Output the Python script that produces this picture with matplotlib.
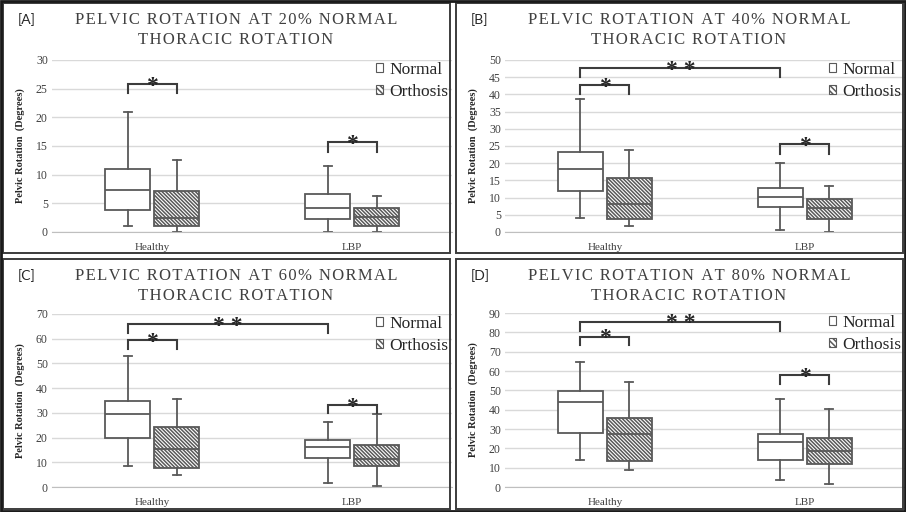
import matplotlib
matplotlib.use("Agg")
import matplotlib.pyplot as plt
from matplotlib.patches import Patch, Rectangle

# ---------------- data ----------------
categories = ["Healthy", "LBP"]
series_names = ["Normal", "Orthosis"]
panel_letters = ["[A]", "[B]", "[C]", "[D]"]
percents = ["20%", "40%", "60%", "80%"]
y_max = [30, 50, 70, 90]
y_step = [5, 5, 10, 10]

# each box: [whisker low, Q1, median, Q3, whisker high]; one per category
a_normal = [[1.1, 3.8, 7.3, 11.0, 20.9], [0.0, 2.3, 4.2, 6.7, 11.5]]
a_orthosis = [[0.0, 1.0, 2.4, 7.2, 12.6], [0.0, 1.0, 2.6, 4.1, 6.2]]
b_normal = [[4.1, 11.8, 18.3, 23.2, 38.6], [0.5, 7.4, 10.1, 12.8, 20.0]]
b_orthosis = [[1.6, 3.9, 8.1, 15.7, 23.7], [0.0, 3.9, 7.0, 9.5, 13.4]]
c_normal = [[8.5, 19.8, 29.4, 34.9, 53.2], [1.8, 11.6, 16.1, 19.2, 26.3]]
c_orthosis = [[4.9, 7.8, 15.3, 24.2, 35.5], [0.3, 8.4, 11.2, 16.9, 29.5]]
d_normal = [[14.2, 28.1, 43.8, 49.5, 64.9], [3.6, 14.2, 23.1, 27.3, 45.5]]
d_orthosis = [[9.0, 13.4, 27.3, 35.9, 54.3], [1.4, 11.8, 18.6, 25.2, 40.5]]

# significance brackets: (group1, series1, group2, series2, bracket top, leg end, label)
a_sig = [(0, 0, 0, 1, 25.8, 24.2, "*"), (1, 0, 1, 1, 15.7, 14.0, "*")]
b_sig = [(0, 0, 0, 1, 42.6, 40.0, "*"), (0, 0, 1, 0, 47.6, 45.0, "* *"), (1, 0, 1, 1, 25.5, 22.8, "*")]
c_sig = [(0, 0, 0, 1, 59.3, 55.9, "*"), (0, 0, 1, 0, 66.0, 62.2, "* *"), (1, 0, 1, 1, 33.2, 29.8, "*")]
d_sig = [(0, 0, 0, 1, 77.8, 73.3, "*"), (0, 0, 1, 0, 85.6, 80.7, "* *"), (1, 0, 1, 1, 57.8, 53.1, "*")]

normals = [a_normal, b_normal, c_normal, d_normal]
orthoses = [a_orthosis, b_orthosis, c_orthosis, d_orthosis]
sigs = [a_sig, b_sig, c_sig, d_sig]

# ---------------- layout ----------------
W, H = 906, 512
fig = plt.figure(figsize=(W / 100, H / 100), dpi=100)
SERIF = ["Liberation Serif", "DejaVu Serif"]
EDGE = "#595959"
plt.rcParams["hatch.linewidth"] = 1.1
plt.rcParams["hatch.color"] = EDGE

# pixel layout per panel: (panel x0, panel y0, axes left, axes top, axes bottom)
panels = [(0, 0, 52, 60, 232), (453, 0, 505, 60, 232),
          (0, 256, 52, 314, 487), (453, 256, 505, 313, 487)]
AX_W = 400
offset = 0.1225
box_w = 0.225
HATCH = "\\" * 9


def spaced(s):
    return "\u200a".join(s)


for i in range(4):
    px0, py0, left, top, bottom = panels[i]
    # panel frame
    fig.add_artist(Rectangle(((px0 + 3) / W, 1 - (py0 + 253) / H), 447 / W, 250 / H,
                             transform=fig.transFigure, fill=False,
                             edgecolor="#3c3c3c", lw=1.4))
    ax = fig.add_axes([left / W, 1 - bottom / H, AX_W / W, (bottom - top) / H])

    for s, (data, hatch) in enumerate([(normals[i], None), (orthoses[i], HATCH)]):
        stats = [dict(whislo=v[0], q1=v[1], med=v[2], q3=v[3], whishi=v[4])
                 for v in data]
        pos = [g + (-offset if s == 0 else offset) for g in range(len(categories))]
        bp = ax.bxp(stats, positions=pos, widths=box_w, patch_artist=True,
                    showfliers=False, capwidths=0.04, manage_ticks=False,
                    boxprops=dict(facecolor="white", edgecolor=EDGE, lw=1.3),
                    medianprops=dict(color=EDGE, lw=1.3),
                    whiskerprops=dict(color=EDGE, lw=1.3),
                    capprops=dict(color=EDGE, lw=1.3))
        if hatch:
            for b in bp["boxes"]:
                b.set_hatch(hatch)

    ax.set_xlim(-0.5, 1.5)
    ax.set_ylim(0, y_max[i])
    ax.set_yticks(range(0, y_max[i] + 1, y_step[i]))
    ax.set_xticks(range(len(categories)))
    ax.set_xticklabels(categories)
    for sp in ["left", "top", "right"]:
        ax.spines[sp].set_visible(False)
    ax.spines["bottom"].set_color("#bfbfbf")
    ax.yaxis.grid(True, color="#d9d9d9", lw=1.0)
    ax.set_axisbelow(True)
    ax.tick_params(length=0)
    ax.tick_params(axis="y", pad=3, labelsize=8.5, labelcolor="#404040")
    ax.tick_params(axis="x", pad=8, labelsize=8, labelcolor="#404040")
    for lab in ax.get_xticklabels() + ax.get_yticklabels():
        lab.set_family(SERIF)
    ax.set_ylabel("Pelvic Rotation  (Degrees)", family=SERIF, weight="bold",
                  fontsize=7.5, color="#262626")
    ax.yaxis.set_label_coords(-27 / AX_W, 0.5)

    for g1, s1, g2, s2, ytop, yleg, label in sigs[i]:
        x1 = g1 + (-offset if s1 == 0 else offset)
        x2 = g2 + (-offset if s2 == 0 else offset)
        ax.plot([x1, x1, x2, x2], [yleg, ytop, ytop, yleg], color="#3c3c3c",
                lw=1.5, solid_joinstyle="miter", clip_on=False)
        ax.annotate(label, xy=((x1 + x2) / 2, ytop), xytext=(0, -5.5),
                    textcoords="offset points", ha="center", va="baseline",
                    fontsize=17, weight="bold", family=SERIF, color="#262626")

    handles = [Patch(facecolor="white", edgecolor=EDGE, lw=0.8, label=series_names[0]),
               Patch(facecolor="white", edgecolor=EDGE, lw=0.8, hatch="\\" * 6,
                     label=series_names[1])]
    ax.legend(handles=handles, loc="upper right", bbox_to_anchor=(1.0, 1.01),
              frameon=False, prop=dict(family=SERIF, size=12.5),
              handlelength=0.42, handleheight=0.42, handletextpad=0.35,
              labelspacing=0.35, borderaxespad=0, borderpad=0.2,
              labelcolor="#262626")

    # panel letter and title
    fig.text((px0 + 18) / W, 1 - (py0 + 20) / H, panel_letters[i],
             family=["Lato", "DejaVu Sans"], fontsize=10, color="#262626",
             ha="left", va="center")
    fig.text((px0 + 236) / W, 1 - (py0 + 20) / H,
             spaced("PELVIC ROTATION") + "  " + spaced("AT " + percents[i] + " NORMAL"),
             family=SERIF, fontsize=12, color="#404040", ha="center", va="center")
    fig.text((px0 + 236) / W, 1 - (py0 + 40) / H, spaced("THORACIC ROTATION"),
             family=SERIF, fontsize=12, color="#404040", ha="center", va="center")

# outer border
fig.add_artist(Rectangle((1 / W, 1 / H), (W - 2) / W, (H - 2) / H,
                         transform=fig.transFigure, fill=False,
                         edgecolor="#1a1a1a", lw=2))

fig.savefig("out.png", dpi=100)
